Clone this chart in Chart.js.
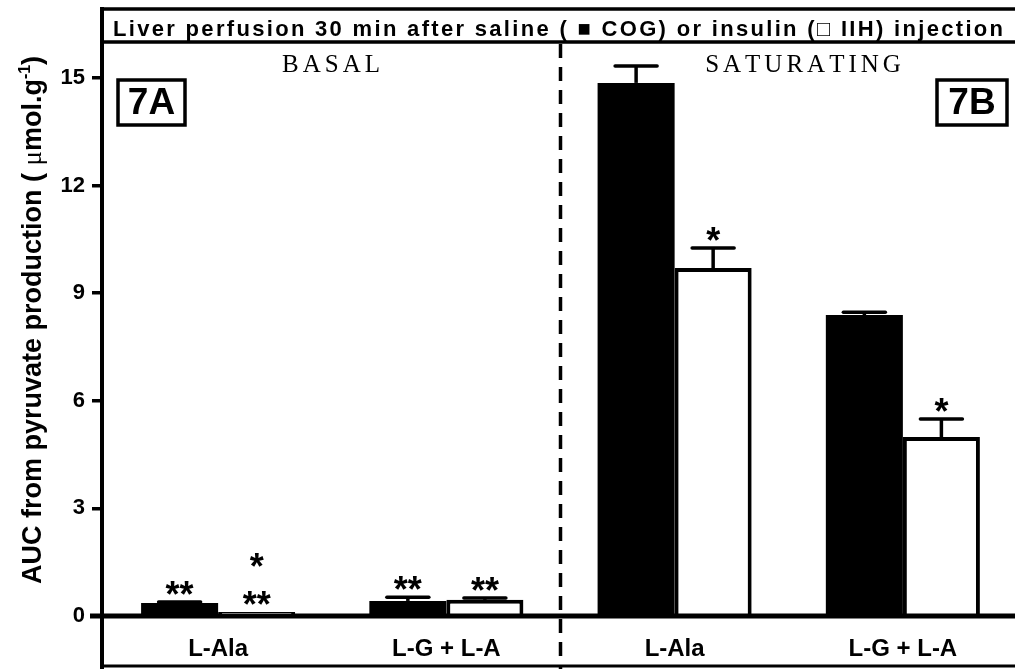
<!DOCTYPE html>
<html>
<head>
<meta charset="utf-8">
<script src="https://cdn.jsdelivr.net/npm/chart.js@4.4.0/dist/chart.umd.min.js"></script>
<style>
html, body { margin: 0; padding: 0; background: #fff; overflow: hidden; }
#wrap { position: absolute; left: 0; top: 0; width: 1030px; height: 669px; }
</style>
</head>
<body>
<div id="wrap"><canvas id="chartAUC"></canvas></div>
<script>
// DATA
const categories = ["L-Ala", "L-G + L-A", "L-Ala", "L-G + L-A"];
const cogMean = [0.36, 0.42, 14.86, 8.39];
const cogErr = [0.03, 0.10, 0.47, 0.08];
const iihMean = [0.11, 0.45, 9.70, 4.99];
const iihErr = [0, 0.05, 0.56, 0.50];
const cogSig = ["**", "**", "", ""];
const iihSig = ["*\n**", "**", "*", "*"];
const yTicks = [0, 3, 6, 9, 12, 15];
const yMax = 16;
const panelNames = ["BASAL", "SATURATING"];
const panelTags = ["7A", "7B"];
const title = "Liver perfusion 30 min after saline ( \u25A0 COG) or insulin (\u25A1 IIH) injection";

const FONT = '"Liberation Sans", Arial, sans-serif';
const SERIF = '"Liberation Serif", "Times New Roman", serif';

// texto com espaçamento entre letras
function spacedText(ctx, text, cx, y, spacing) {
  const chars = [...text];
  const total = chars.reduce((s, c) => s + ctx.measureText(c).width, 0) + spacing * (chars.length - 1);
  let x = cx - total / 2;
  ctx.textAlign = "left";
  chars.forEach(c => { ctx.fillText(c, x, y); x += ctx.measureText(c).width + spacing; });
}

// ERROR BARS, STARS, FRAME
const framePlugin = {
  id: "frame",
  afterDraw(chart) {
    const { ctx, chartArea: a, scales: { x, y } } = chart;
    const W = chart.width;
    ctx.save();
    ctx.strokeStyle = "#000";
    ctx.fillStyle = "#000";

    // error bars + stars
    [[cogErr, cogSig], [iihErr, iihSig]].forEach(([err, sig], di) => {
      const meta = chart.getDatasetMeta(di);
      meta.data.forEach((bar, i) => {
        const v = chart.data.datasets[di].data[i];
        const yTop = y.getPixelForValue(v + err[i]);
        if (err[i] > 0) {
          ctx.lineWidth = 3.5;
          ctx.lineCap = "butt";
          ctx.beginPath();
          ctx.moveTo(bar.x, bar.y);
          ctx.lineTo(bar.x, yTop);
          ctx.stroke();
          ctx.lineCap = "round";
          ctx.beginPath();
          ctx.moveTo(bar.x - 21, yTop);
          ctx.lineTo(bar.x + 21, yTop);
          ctx.stroke();
        }
        if (sig[i]) {
          ctx.font = "bold 36px " + FONT;
          ctx.textAlign = "center";
          ctx.textBaseline = "alphabetic";
          const lines = sig[i].split("\n").reverse();
          lines.forEach((s, k) => {
            const cy = yTop - 14 - k * 38;
            ctx.fillText(s, bar.x, cy + 19);
          });
        }
      });
    });

    // title box
    ctx.lineCap = "butt";
    ctx.lineWidth = 3.5;
    ctx.beginPath();
    ctx.moveTo(a.left - 2, 9); ctx.lineTo(W, 9);
    ctx.moveTo(a.left - 2, a.top); ctx.lineTo(W, a.top);
    ctx.stroke();
    ctx.font = "bold 22px " + FONT;
    ctx.textBaseline = "alphabetic";
    const raw = [...title].reduce((s, c) => s + ctx.measureText(c).width, 0);
    const sp = (890 - raw) / ([...title].length - 1);
    spacedText(ctx, title, 558, 36, sp);

    // axes
    ctx.lineWidth = 4;
    ctx.beginPath();
    ctx.moveTo(a.left - 2, 7); ctx.lineTo(a.left - 2, 669);
    ctx.stroke();
    ctx.lineWidth = 5;
    ctx.beginPath();
    ctx.moveTo(a.left - 14, a.bottom); ctx.lineTo(W, a.bottom);
    ctx.stroke();
    ctx.lineWidth = 3;
    ctx.beginPath();
    ctx.moveTo(a.left - 2, 666); ctx.lineTo(W, 666);
    ctx.stroke();

    // divisória tracejada
    const xMid = (x.getPixelForValue(1) + x.getPixelForValue(2)) / 2;
    ctx.lineWidth = 3.5;
    ctx.setLineDash([14, 9]);
    ctx.beginPath();
    ctx.moveTo(xMid, a.top + 2); ctx.lineTo(xMid, 669);
    ctx.stroke();
    ctx.setLineDash([]);

    // panel names
    ctx.font = "25px " + SERIF;
    ctx.textBaseline = "alphabetic";
    spacedText(ctx, panelNames[0], 331, 72, 4);
    spacedText(ctx, panelNames[1], 803, 72, 4);

    // 7A / 7B
    ctx.lineWidth = 3.5;
    ctx.font = "bold 37px " + FONT;
    ctx.textAlign = "center";
    ctx.textBaseline = "middle";
    [[118, 185], [937, 1007]].forEach(([l, r], k) => {
      ctx.strokeRect(l, 80, r - l, 45);
      ctx.fillText(panelTags[k], (l + r) / 2, 104);
    });

    // y title
    ctx.save();
    ctx.translate(31, 320);
    ctx.rotate(-Math.PI / 2);
    ctx.textBaseline = "alphabetic";
    ctx.textAlign = "left";
    const parts = [
      { t: "AUC from pyruvate production ( ", f: "bold 27px " + FONT, dy: 0 },
      { t: "\u03BC", f: "27px " + SERIF, dy: 0 },
      { t: "mol.g", f: "bold 27px " + FONT, dy: 0 },
      { t: "-1", f: "bold 16px " + FONT, dy: -11 },
      { t: ")", f: "bold 27px " + FONT, dy: 0 }
    ];
    let total = 0;
    parts.forEach(p => { ctx.font = p.f; p.w = ctx.measureText(p.t).width; total += p.w; });
    let u = -total / 2;
    parts.forEach(p => { ctx.font = p.f; ctx.fillText(p.t, u, 10 + p.dy); u += p.w; });
    ctx.restore();

    ctx.restore();
  }
};

new Chart(document.getElementById("chartAUC"), {
  type: "bar",
  data: {
    labels: categories,
    datasets: [
      { label: "COG", data: cogMean, backgroundColor: "#000", borderWidth: 0 },
      { label: "IIH", data: iihMean, backgroundColor: "#fff", borderColor: "#000", borderWidth: 4 }
    ]
  },
  options: {
    responsive: true,
    maintainAspectRatio: false,
    animation: false,
    events: [],
    layout: { padding: { left: 0, top: 42, right: 13, bottom: 3 } },
    plugins: { legend: { display: false }, tooltip: { enabled: false } },
    datasets: { bar: { categoryPercentage: 0.675, barPercentage: 1.0 } },
    scales: {
      x: {
        grid: { display: false, drawTicks: false },
        border: { display: false },
        ticks: { color: "#000", font: { family: FONT, size: 24, weight: "bold" }, padding: 19, maxRotation: 0 },
        afterFit: s => { s.height = 50; }
      },
      y: {
        min: 0,
        max: yMax,
        afterBuildTicks: s => { s.ticks = yTicks.map(v => ({ value: v })); },
        grid: { drawOnChartArea: false, drawTicks: true, tickLength: 12, lineWidth: 3.5, color: "#000" },
        border: { display: false },
        ticks: { color: "#000", font: { family: FONT, size: 22, weight: "bold" }, padding: 7 },
        afterFit: s => { s.width = 104; }
      }
    }
  },
  plugins: [framePlugin]
});
</script>
</body>
</html>
